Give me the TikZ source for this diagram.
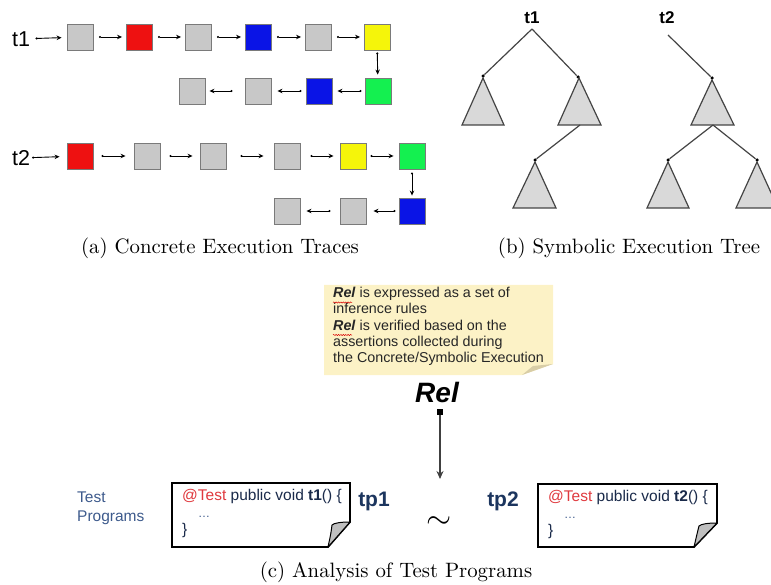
\documentclass[tikz,border=0pt]{standalone}
\usepackage{fontspec}
\newfontfamily\lib{Liberation Sans}
\newfontfamily\capfont[Extension=.otf]{lmroman10-regular}
\usetikzlibrary{arrows.meta,decorations.pathmorphing}
\definecolor{sqborder}{HTML}{7A7A7A}
\definecolor{sqgray}{HTML}{C8C8C8}
\definecolor{sqred}{HTML}{EE1111}
\definecolor{sqblue}{HTML}{0A14E6}
\definecolor{sqyellow}{HTML}{F5F50A}
\definecolor{sqgreen}{HTML}{14F050}
\definecolor{trifill}{HTML}{D9D9D9}
\definecolor{treeline}{HTML}{444444}
\definecolor{notefill}{HTML}{FCF2C6}
\definecolor{notefold}{HTML}{D8CDA6}
\definecolor{navy}{HTML}{1C355E}
\definecolor{steel}{HTML}{3D5A8C}
\definecolor{codetxt}{HTML}{1A2A4A}
\definecolor{testred}{HTML}{E0393E}
\begin{document}
\begin{tikzpicture}[x=1pt,y=-1pt,
  sq/.style={draw=sqborder, line width=0.9pt, minimum size=26pt, inner sep=0pt},
  arr/.style={line width=0.9pt, {Circle[length=2pt]}-{Stealth[length=5pt,width=4.5pt]}, shorten <=5.5pt, shorten >=3.5pt},
  tlabel/.style={font=\lib\fontsize{21.5}{24}\selectfont, inner sep=0pt},
  captext/.style={font=\capfont\fontsize{20.8}{24}\selectfont, inner sep=0pt},
  tri/.style={draw=treeline, fill=trifill, line width=1.2pt, line join=miter},
  tl/.style={draw=treeline, line width=1.2pt},
  dotn/.style={circle, fill=black, inner sep=0pt, minimum size=3.5pt},
  codebox/.style={draw=black, fill=white, line width=1.8pt, line join=miter},
  codetext/.style={font=\lib\fontsize{15.5}{18}\selectfont, text=codetxt, align=left, inner sep=0pt, anchor=north west},
  tplabel/.style={font=\lib\bfseries\fontsize{21}{24}\selectfont, text=navy, inner sep=0pt}
]
\useasboundingbox (0,0) rectangle (771,585);

% ---------- (a) concrete traces ----------
\node[tlabel] (t1) at (21,39) {t1};
\node[sq, fill=sqgray]   (a1) at (80,37) {};
\node[sq, fill=sqred]    (a2) at (139,37) {};
\node[sq, fill=sqgray]   (a3) at (198,37) {};
\node[sq, fill=sqblue]   (a4) at (258,37) {};
\node[sq, fill=sqgray]   (a5) at (318,37) {};
\node[sq, fill=sqyellow] (a6) at (377,37) {};
\node[sq, fill=sqgreen]  (b1) at (378,91) {};
\node[sq, fill=sqblue]   (b2) at (319,91) {};
\node[sq, fill=sqgray]   (b3) at (258,91) {};
\node[sq, fill=sqgray]   (b4) at (192,91) {};

\draw[arr, shorten >=5pt] (t1) -- (a1);
\draw[arr] (a1) -- (a2);
\draw[arr] (a2) -- (a3);
\draw[arr] (a3) -- (a4);
\draw[arr] (a4) -- (a5);
\draw[arr] (a5) -- (a6);
\draw[arr, shorten <=2pt, shorten >=3pt] (a6) -- (b1);
\draw[arr, shorten <=3pt, shorten >=5pt] (b1) -- (b2);
\draw[arr, shorten <=4pt, shorten >=6pt] (b2) -- (b3);
\draw[arr, shorten <=12pt, shorten >=4pt] (b3) -- (b4);

\node[tlabel] (t2) at (21,158) {t2};
\node[sq, fill=sqred]    (c1) at (80,156) {};
\node[sq, fill=sqgray]   (c2) at (147,156) {};
\node[sq, fill=sqgray]   (c3) at (213,156) {};
\node[sq, fill=sqgray]   (c4) at (287,156) {};
\node[sq, fill=sqyellow] (c5) at (353,156) {};
\node[sq, fill=sqgreen]  (c6) at (412,156) {};
\node[sq, fill=sqblue]   (d1) at (412,211) {};
\node[sq, fill=sqgray]   (d2) at (353,211) {};
\node[sq, fill=sqgray]   (d3) at (287,211) {};

\draw[arr, shorten <=2pt, shorten >=7pt] (t2) -- (c1);
\draw[arr, shorten <=8pt, shorten >=8pt] (c1) -- (c2);
\draw[arr, shorten <=9pt, shorten >=7pt] (c2) -- (c3);
\draw[arr, shorten <=14pt, shorten >=10pt] (c3) -- (c4);
\draw[arr, shorten <=10pt, shorten >=6pt] (c4) -- (c5);
\draw[arr, shorten <=4pt, shorten >=5pt] (c5) -- (c6);
\draw[arr, shorten <=3pt, shorten >=2pt] (c6) -- (d1);
\draw[arr, shorten <=3pt, shorten >=7pt] (d1) -- (d2);
\draw[arr, shorten <=9pt, shorten >=6pt] (d2) -- (d3);

\node[captext] (capa) at (220,248) {(a) Concrete Execution Traces};

% ---------- (b) symbolic execution tree ----------
\begin{scope}
\clip (440,0) rectangle (771,230);
\node[font=\lib\bfseries\fontsize{17}{20}\selectfont, inner sep=0pt] (s1) at (532,18) {t1};
\node[font=\lib\bfseries\fontsize{17}{20}\selectfont, inner sep=0pt] (s2) at (667,18) {t2};
% tree t1
\coordinate (r1) at (532,29);
\node[dotn] (l1) at (483,76) {};
\node[dotn] (m1) at (578,77) {};
\draw[tl] (r1) -- (l1);
\draw[tl] (r1) -- (m1);
\draw[tri] (483,78) -- (504,125) -- (462,125) -- cycle;
\draw[tri] (579,78) -- (601,125) -- (558,125) -- cycle;
\coordinate (mb1) at (580,125);
\node[dotn] (n1) at (535,160) {};
\draw[tl] (mb1) -- (n1);
\draw[tri] (535,162) -- (556,208) -- (513,208) -- cycle;
% tree t2
\coordinate (r2) at (668,35);
\node[dotn] (p2) at (712,78) {};
\draw[tl] (r2) -- (p2);
\draw[tri] (712,80) -- (734,125) -- (691,125) -- cycle;
\coordinate (pb2) at (713,125);
\node[dotn] (q2) at (668,160) {};
\node[dotn] (u2) at (757,160) {};
\draw[tl] (pb2) -- (q2);
\draw[tl] (pb2) -- (u2);
\draw[tri] (668,162) -- (689,208) -- (647,208) -- cycle;
\draw[tri] (757,162) -- (778,208) -- (736,208) -- cycle;
\end{scope}

\node[captext] (capb) at (629,248) {(b) Symbolic Execution Tree};

% ---------- (c) analysis of test programs ----------
\fill[notefill] (324,285) -- (553,285) -- (553,364) -- (522,375) -- (324,375) -- cycle;
\fill[notefold] (553,364) -- (522,375) -- (533,366) -- cycle;
\node[font=\lib\fontsize{14.3}{16.3}\selectfont, text=black!85, align=left, inner sep=0pt, anchor=north west] (note) at (333,287)
 {\textbf{\textit{Rel}} is expressed as a set of\\
  inference rules\\
  \textbf{\textit{Rel}} is verified based on the\\
  assertions collected during\\
  the Concrete/Symbolic Execution};
\draw[red!85!black, line width=0.5pt, decorate, decoration={snake, amplitude=0.6pt, segment length=2.4pt}] (333,302.5) -- (352,302.5);
\draw[red!85!black, line width=0.5pt, decorate, decoration={snake, amplitude=0.6pt, segment length=2.4pt}] (333,335) -- (352,335);

\node[font=\lib\bfseries\itshape\fontsize{28}{32}\selectfont, inner sep=0pt] (rel) at (437,392) {Rel};
\node[fill=black, inner sep=0pt, minimum size=6pt] (relsq) at (440,412) {};
\coordinate (reltip) at (440,479);
\draw[line width=1.2pt, black!75, -{Stealth[length=8pt,width=7pt]}, shorten <=0pt] (relsq) -- (reltip);

\node[font=\lib\fontsize{15.5}{19}\selectfont, text=steel, align=left, inner sep=0pt, anchor=west] (tp) at (77,508.5) {Test\\Programs};

% code box 1
\draw[codebox] (172,483) -- (350,483) -- (350,522) -- (328,547) -- (172,547) -- cycle;
\draw[fill=black!25, line width=1pt, line join=round] (350,522) .. controls (341,522) and (334,523) .. (332,525) .. controls (331,533) .. (328,547) -- cycle;
\node[codetext] (code1) at (182,489) {{\color{testred}@Test} public void \textbf{t1}() \{\\[-1pt]
  \hspace*{16pt}{\color{steel}\fontsize{12}{14}\selectfont\ldots}\\[-1pt]
  \}};

% code box 2
\draw[codebox] (538,484) -- (717,484) -- (717,523) -- (694,547) -- (538,547) -- cycle;
\draw[fill=black!25, line width=1pt, line join=round] (717,523) .. controls (708,523) and (701,524) .. (699,526) .. controls (697,534) .. (694,547) -- cycle;
\node[codetext] (code2) at (548,490) {{\color{testred}@Test} public void \textbf{t2}() \{\\[-1pt]
  \hspace*{16pt}{\color{steel}\fontsize{12}{14}\selectfont\ldots}\\[-1pt]
  \}};

\node[tplabel] (tp1) at (374,501) {tp1};
\node[tplabel] (tp2) at (503,501) {tp2};
\node[font=\fontsize{24.88}{28}\selectfont, inner sep=0pt] (sim) at (439,523) {\scalebox{1.3}{$\sim$}};

\node[captext] (capc) at (396,572) {(c) Analysis of Test Programs};
\end{tikzpicture}
\end{document}
